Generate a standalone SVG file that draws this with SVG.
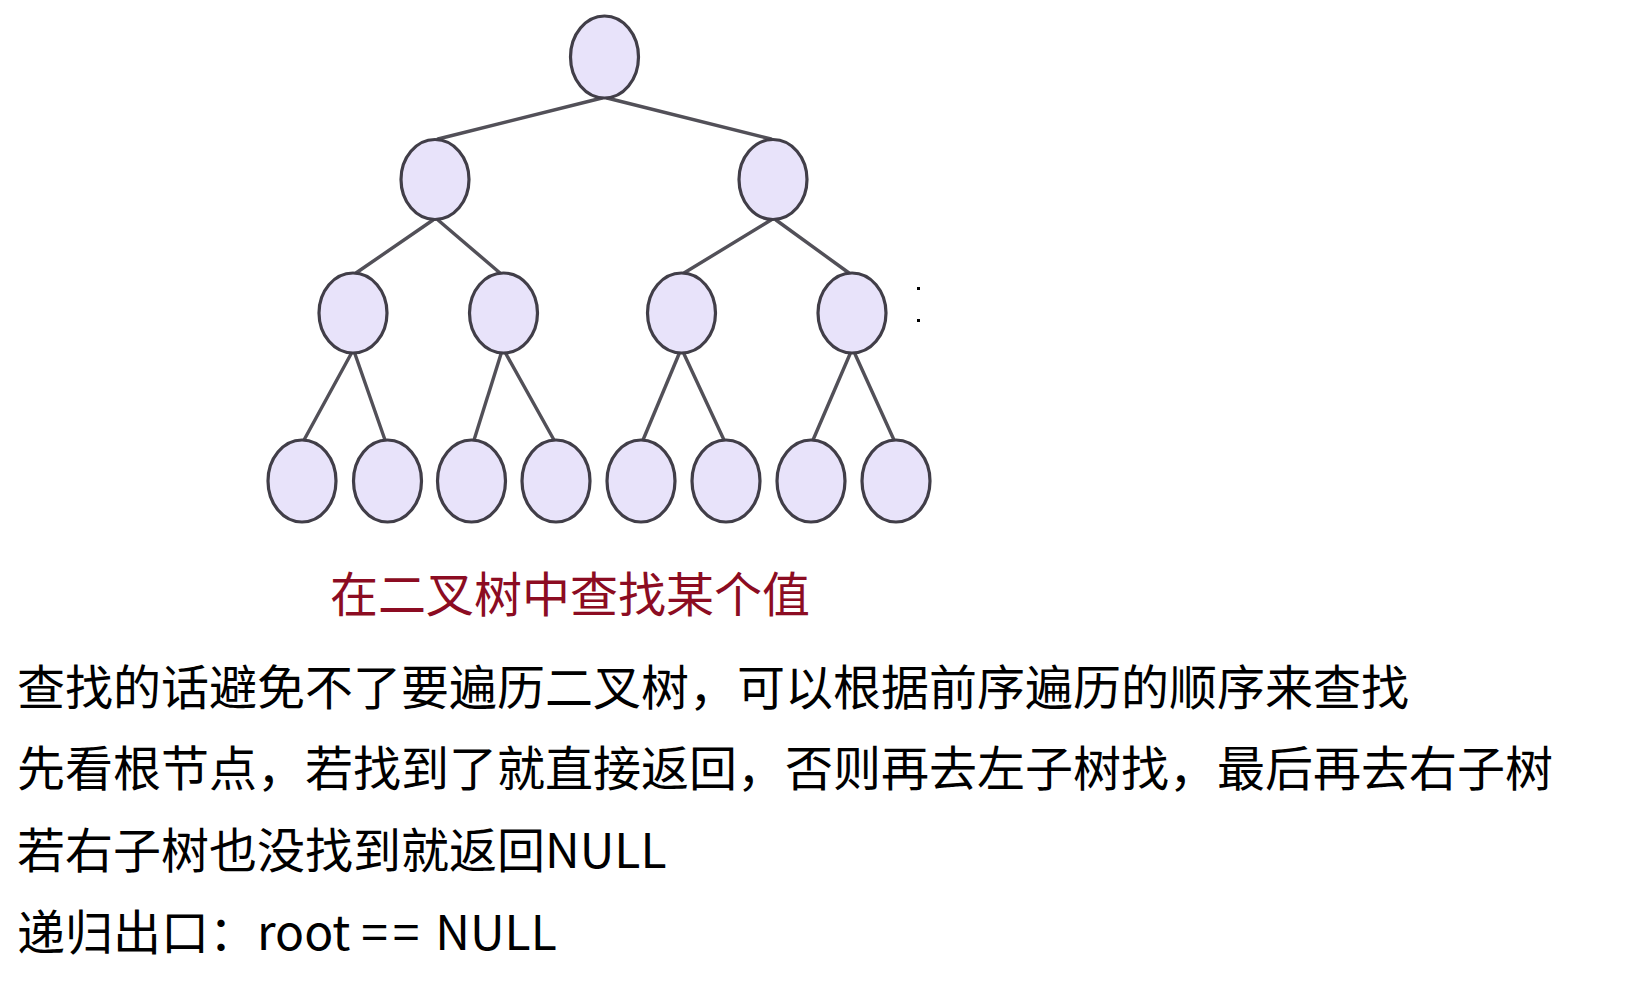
<svg xmlns="http://www.w3.org/2000/svg" width="1630" height="1008" viewBox="0 0 1630 1008">
<style>
.node ellipse{fill:#e8e3fa;stroke:#413e48;stroke-width:3.2}
.edges line{stroke:#525058;stroke-width:3.4;stroke-linecap:round}
.t{font-family:"Noto Sans CJK SC","Microsoft YaHei",sans-serif;font-size:48px;fill:#000}
.title{font-family:"Noto Sans CJK SC","Microsoft YaHei",sans-serif;font-size:48px;fill:#8c0c22}
</style>
<rect width="1630" height="1008" fill="#fff"/>
<g class="edges" id="connectors">
<line x1="602" y1="98" x2="438" y2="139"/>
<line x1="607" y1="98" x2="771" y2="139"/>
<line x1="433" y1="220" x2="356" y2="273"/>
<line x1="438" y1="220" x2="500" y2="273"/>
<line x1="771" y1="220" x2="684" y2="273"/>
<line x1="776" y1="220" x2="849" y2="273"/>
<line x1="351" y1="354" x2="304" y2="440"/>
<line x1="355" y1="354" x2="385" y2="440"/>
<line x1="501" y1="354" x2="474" y2="440"/>
<line x1="506" y1="354" x2="554" y2="440"/>
<line x1="679" y1="354" x2="643" y2="440"/>
<line x1="684" y1="354" x2="724" y2="440"/>
<line x1="850" y1="354" x2="813" y2="440"/>
<line x1="855" y1="354" x2="894" y2="440"/>
</g>
<g class="node" id="n1"><ellipse cx="604.5" cy="57" rx="34" ry="41"/></g>
<g class="node" id="n2"><ellipse cx="435" cy="179.5" rx="34" ry="40"/></g>
<g class="node" id="n3"><ellipse cx="773" cy="179.5" rx="34" ry="40"/></g>
<g class="node" id="n4"><ellipse cx="353" cy="313" rx="34" ry="40"/></g>
<g class="node" id="n5"><ellipse cx="503.5" cy="313" rx="34" ry="40"/></g>
<g class="node" id="n6"><ellipse cx="681.5" cy="313" rx="34" ry="40"/></g>
<g class="node" id="n7"><ellipse cx="852" cy="313" rx="34" ry="40"/></g>
<g class="node" id="n8"><ellipse cx="302" cy="481" rx="34" ry="41"/></g>
<g class="node" id="n9"><ellipse cx="387.5" cy="481" rx="34" ry="41"/></g>
<g class="node" id="n10"><ellipse cx="471.5" cy="481" rx="34" ry="41"/></g>
<g class="node" id="n11"><ellipse cx="556" cy="481" rx="34" ry="41"/></g>
<g class="node" id="n12"><ellipse cx="641" cy="481" rx="34" ry="41"/></g>
<g class="node" id="n13"><ellipse cx="726" cy="481" rx="34" ry="41"/></g>
<g class="node" id="n14"><ellipse cx="811" cy="481" rx="34" ry="41"/></g>
<g class="node" id="n15"><ellipse cx="896" cy="481" rx="34" ry="41"/></g>
<rect x="917" y="287" width="3" height="3" fill="#000"/>
<rect x="917" y="319" width="3" height="3" fill="#000"/>
<text class="title" x="330" y="612">在二叉树中查找某个值</text>
<text class="t" x="17" y="705">查找的话避免不了要遍历二叉树，可以根据前序遍历的顺序来查找</text>
<text class="t" x="17" y="786">先看根节点，若找到了就直接返回，否则再去左子树找，最后再去右子树</text>
<text class="t" x="17" y="868">若右子树也没找到就返回NULL</text>
<text class="t" x="17" y="950">递归出口：root <tspan letter-spacing="5">==</tspan> NULL</text>
</svg>
